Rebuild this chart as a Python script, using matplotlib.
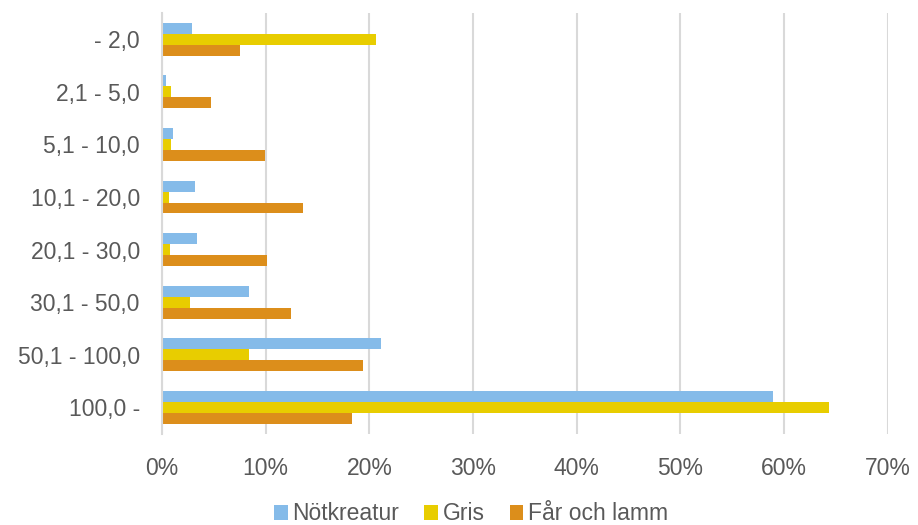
import numpy as np
import matplotlib
import matplotlib.pyplot as plt
from matplotlib.ticker import PercentFormatter
matplotlib.use("Agg")

plt.rcParams['font.family'] = ['Liberation Sans', 'DejaVu Sans']

# weight classes (kg) and share per species
categories = ['- 2,0', '2,1 - 5,0', '5,1 - 10,0', '10,1 - 20,0',
              '20,1 - 30,0', '30,1 - 50,0', '50,1 - 100,0', '100,0 -']
notkreatur = [2.9, 0.4, 1.1, 3.2, 3.4, 8.4, 21.1, 58.9]
gris = [20.6, 0.9, 0.9, 0.7, 0.8, 2.7, 8.4, 64.3]
far_och_lamm = [7.5, 4.7, 9.9, 13.6, 10.1, 12.4, 19.4, 18.3]
series_names = ['Nötkreatur', 'Gris', 'Får och lamm']
colors = ['#85BBE9', '#E8CD00', '#DC8E1B']

text_col = '#595959'
grid_col = '#D9D9D9'

fig = plt.figure(figsize=(9.18, 5.25), dpi=100)
ax = fig.add_axes([162 / 918, 1 - 433.6 / 525, (887.7 - 162) / 918, (433.6 - 13) / 525])

y = np.arange(len(categories))
h = 0.209
for i, (vals, name, c) in enumerate(zip([notkreatur, gris, far_och_lamm], series_names, colors)):
    ax.barh(y + (i - 1) * h, vals, height=h, color=c, label=name, zorder=3)

ax.set_ylim(len(categories) - 0.5, -0.5)
ax.set_yticks(y)
ax.set_yticklabels(categories)
ax.set_xlim(0, 70)
ax.set_xticks(np.arange(0, 71, 10))
ax.xaxis.set_major_formatter(PercentFormatter(decimals=0))

ax.grid(axis='x', color=grid_col, linewidth=1.5, zorder=0)
for s in ['top', 'right', 'bottom']:
    ax.spines[s].set_visible(False)
ax.spines['left'].set_color(grid_col)
ax.spines['left'].set_linewidth(1.5)
ax.spines['left'].set_zorder(4)

ax.tick_params(axis='both', length=0, labelsize=16.5, labelcolor=text_col)
ax.tick_params(axis='x', pad=17)
ax.tick_params(axis='y', pad=16)

fig.legend(loc='center', bbox_to_anchor=(471 / 918, 1 - 514 / 525), ncol=3,
           frameon=False, fontsize=16.5, labelcolor=text_col,
           handlelength=0.6, handleheight=0.6, handletextpad=0.2,
           columnspacing=1.1)

plt.savefig('out.png', dpi=100)
